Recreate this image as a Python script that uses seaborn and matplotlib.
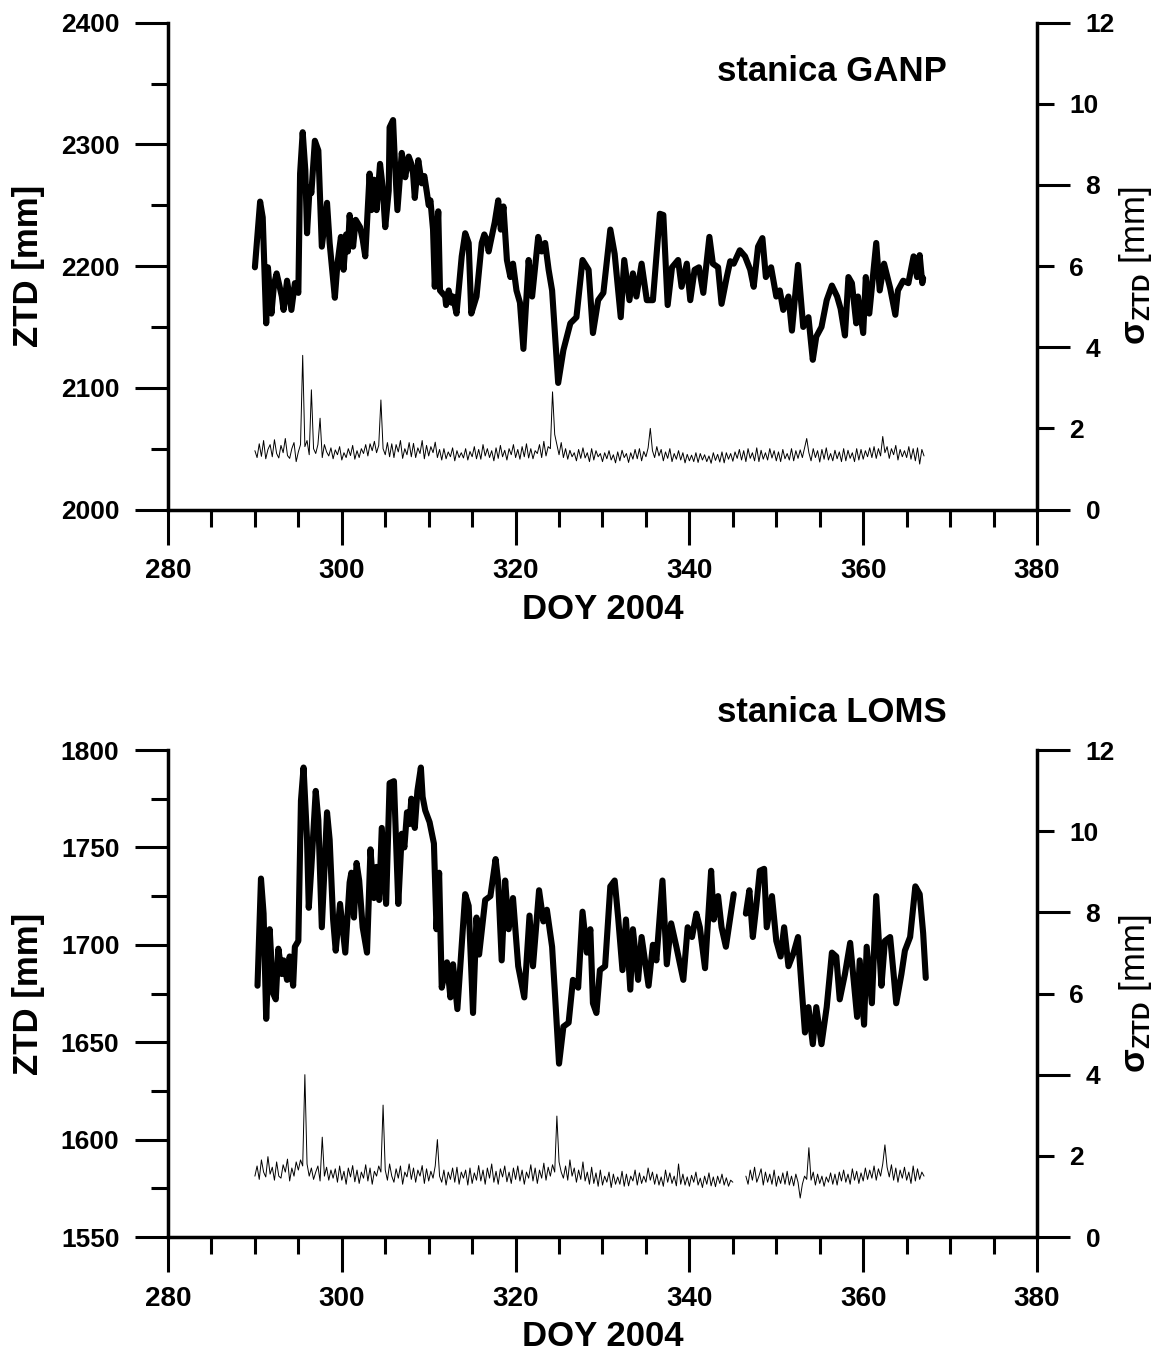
import numpy as np
import pandas as pd
import matplotlib
matplotlib.use("Agg")
import matplotlib.pyplot as plt
from matplotlib.ticker import MultipleLocator, FixedLocator, FormatStrFormatter
import seaborn as sns

# ---------------- data ----------------
# Station GANP: zenith total delay [mm]
ganp_doy = [290.0, 290.6, 290.9, 291.3, 291.5, 291.9, 292.2, 292.5, 293.1, 293.3, 293.7,
            294.2, 294.6, 295.0, 295.2, 295.5, 295.8, 296.0, 296.3, 296.5, 296.9,
            297.3, 297.7, 298.1, 298.3, 298.6, 299.2, 299.5, 299.9, 300.2, 300.5,
            300.7, 300.9, 301.3, 301.6, 302.1, 302.4, 302.7, 303.2, 303.4, 303.7,
            304.0, 304.4, 304.7, 305.0, 305.4, 305.5, 305.9, 306.1, 306.4, 306.9,
            307.3, 307.5, 307.7, 308.0, 308.2, 308.4, 308.8, 309.2, 309.5, 309.8,
            310.0, 310.2, 310.5, 310.7, 311.1, 311.3, 311.9, 312.0, 312.3, 312.6,
            312.8, 313.2, 313.8, 314.2, 314.6, 314.9, 315.5, 316.1, 316.4, 316.7,
            316.9, 317.1, 317.6, 318.0, 318.3, 318.6, 319.0, 319.4, 319.7, 320.1,
            320.5, 320.9, 321.5, 321.9, 322.6, 323.0, 323.4, 323.8, 324.2, 324.9,
            325.5, 326.3, 327.0, 327.7, 328.4, 328.9, 329.5, 330.1, 330.9, 331.4,
            332.1, 332.5, 333.1, 333.5, 333.9, 334.5, 335.1, 335.8, 336.2, 336.6,
            337.0, 337.5, 338.0, 338.7, 339.1, 339.7, 340.1, 340.6, 341.1, 341.6,
            342.3, 342.7, 343.3, 343.7, 344.3, 344.7, 345.1, 345.8, 346.4, 347.0,
            347.4, 347.9, 348.4, 348.8, 349.4, 350.0, 350.4, 350.8, 351.4, 351.8,
            352.5, 353.1, 353.7, 354.2, 354.6, 355.2, 355.8, 356.4, 357.0, 357.4,
            357.9, 358.3, 358.7, 359.2, 359.4, 360.0, 360.3, 360.7, 361.5, 361.9,
            362.4, 363.1, 363.7, 364.0, 364.6, 365.2, 365.8, 366.2, 366.5, 366.8,
            366.9]
ganp_ztd = [2199, 2253, 2240, 2153, 2199, 2161, 2185, 2194, 2175, 2164, 2188,
            2164, 2186, 2178, 2276, 2310, 2279, 2227, 2265, 2260, 2303,
            2295, 2216, 2240, 2252, 2219, 2174, 2202, 2224, 2197, 2226,
            2212, 2242, 2216, 2238, 2232, 2222, 2208, 2276, 2246, 2271,
            2246, 2284, 2265, 2232, 2262, 2314, 2320, 2287, 2246, 2293,
            2273, 2282, 2290, 2284, 2276, 2256, 2287, 2268, 2274, 2260,
            2250, 2254, 2230, 2183, 2245, 2180, 2175, 2168, 2180, 2170,
            2175, 2161, 2208, 2227, 2219, 2161, 2175, 2219, 2226, 2221,
            2212, 2219, 2236, 2254, 2230, 2249, 2205, 2191, 2202, 2180,
            2170, 2132, 2205, 2175, 2224, 2212, 2219, 2197, 2180, 2104,
            2131, 2153, 2158, 2205, 2197, 2145, 2172, 2178, 2230, 2210,
            2158, 2205, 2172, 2194, 2175, 2202, 2172, 2172, 2208, 2243,
            2242, 2168, 2199, 2205, 2183, 2202, 2172, 2197, 2199, 2178,
            2224, 2202, 2199, 2169, 2191, 2204, 2202, 2213, 2208, 2197,
            2183, 2216, 2223, 2191, 2199, 2175, 2180, 2164, 2175, 2147,
            2201, 2150, 2158, 2123, 2142, 2150, 2172, 2184, 2175, 2165,
            2143, 2191, 2186, 2153, 2175, 2145, 2191, 2161, 2219, 2180,
            2202, 2182, 2160, 2180, 2188, 2186, 2208, 2191, 2209, 2186,
            2190]

# Station LOMS: zenith total delay [mm] (NaN = data gap)
loms_doy = [290.3, 290.7, 291.0, 291.3, 291.7, 292.1, 292.4, 292.7, 293.1, 293.3,
            293.7, 294.0, 294.4, 294.6, 295.0, 295.3, 295.6, 296.0, 296.2, 296.5,
            297.0, 297.3, 297.7, 298.3, 298.6, 299.0, 299.3, 299.8, 300.4, 300.9,
            301.1, 301.4, 301.7, 302.0, 302.4, 302.9, 303.3, 303.7, 304.0, 304.3,
            304.6, 305.1, 305.5, 306.0, 306.5, 306.9, 307.2, 307.5, 307.8, 308.0,
            308.4, 308.7, 309.1, 309.3, 309.6, 310.1, 310.6, 310.9, 311.2, 311.5,
            312.1, 312.5, 312.8, 313.3, 314.2, 314.6, 315.1, 315.5, 315.8, 316.5,
            317.1, 317.7, 318.0, 318.4, 318.8, 319.2, 319.7, 320.3, 321.0, 321.6,
            322.0, 322.7, 323.2, 323.6, 324.2, 324.5, 325.0, 325.5, 326.1, 326.6,
            327.2, 327.7, 328.2, 328.6, 328.9, 329.3, 329.7, 330.3, 330.9, 331.4,
            331.8, 332.3, 332.7, 333.2, 333.5, 334.1, 334.5, 335.3, 335.8, 336.2,
            336.9, 337.4, 337.9, 338.5, 339.3, 339.8, 340.3, 340.8, 341.2, 341.8,
            342.5, 342.8, 343.3, 343.7, 344.2, 344.7, 345.1, 345.8, 346.5, 346.9,
            347.3, 347.7, 348.1, 348.6, 348.9, 349.5, 350.0, 350.5, 350.9, 351.4,
            352.0, 352.5, 352.9, 353.3, 353.7, 354.2, 354.6, 355.2, 355.8, 356.4,
            356.9, 357.3, 357.9, 358.5, 358.9, 359.3, 359.6, 360.1, 360.4, 361.0,
            361.5, 362.1, 362.5, 363.1, 363.5, 363.8, 364.4, 364.8, 365.4, 366.0,
            366.5, 366.9, 367.2]
loms_ztd = [1679, 1734, 1716, 1662, 1708, 1675, 1672, 1698, 1685, 1692,
            1682, 1694, 1679, 1699, 1702, 1774, 1791, 1754, 1719, 1740,
            1779, 1764, 1709, 1768, 1754, 1713, 1697, 1721, 1696, 1732,
            1737, 1714, 1742, 1733, 1709, 1696, 1749, 1724, 1740, 1723,
            1760, 1721, 1783, 1784, 1721, 1757, 1750, 1768, 1762, 1775,
            1760, 1779, 1791, 1776, 1769, 1763, 1752, 1708, 1737, 1678,
            1691, 1673, 1690, 1667, 1726, 1720, 1665, 1714, 1695, 1723,
            1725, 1744, 1732, 1692, 1733, 1708, 1724, 1689, 1673, 1715,
            1689, 1728, 1712, 1718, 1699, 1677, 1639, 1658, 1660, 1682,
            1678, 1717, 1696, 1708, 1670, 1665, 1687, 1689, 1730, 1733,
            1714, 1687, 1713, 1677, 1708, 1682, 1704, 1679, 1700, 1692,
            1733, 1690, 1711, 1699, 1682, 1709, 1704, 1716, 1709, 1688,
            1738, 1713, 1725, 1709, 1699, 1714, 1726, np.nan, 1716, 1728,
            1704, 1720, 1738, 1739, 1709, 1725, 1702, 1694, 1709, 1689,
            1696, 1704, 1679, 1655, 1668, 1649, 1668, 1649, 1668, 1696,
            1694, 1672, 1685, 1701, 1682, 1663, 1692, 1659, 1699, 1670,
            1725, 1679, 1702, 1704, 1685, 1670, 1685, 1697, 1704, 1730,
            1726, 1706, 1683]

# Formal errors of ZTD, 6-hourly, starting DOY 290.0, in 0.01 mm
sigma_start = 290.0
sigma_step = 0.25
ganp_sigma = [
    145, 128, 162, 131, 170, 125, 148, 160, 130, 172, 138, 127, 158, 140, 175, 133,
    126, 150, 165, 118, 142, 160, 380, 155, 170, 135, 295, 150, 138, 160, 225, 128,
    160, 142, 132, 152, 125, 147, 135, 155, 122, 140, 128, 150, 133, 158, 124, 145,
    128, 150, 138, 160, 132, 162, 145, 168, 140, 158, 270, 150, 135, 165, 130, 162,
    128, 160, 142, 170, 126, 150, 135, 165, 130, 163, 128, 152, 138, 170, 125, 158,
    132, 155, 140, 166, 128, 148, 122, 150, 125, 142, 130, 152, 120, 145, 128, 140,
    127, 150, 122, 143, 130, 155, 125, 148, 124, 160, 132, 150, 128, 145, 120, 152,
    126, 158, 130, 146, 122, 150, 135, 160, 128, 148, 124, 155, 130, 162, 127, 150,
    125, 145, 138, 160, 128, 168, 132, 155, 150, 290, 185, 160, 135, 165, 128, 150,
    124, 146, 130, 140, 120, 148, 126, 152, 127, 140, 118, 150, 122, 145, 130, 138,
    118, 140, 125, 145, 122, 135, 115, 142, 120, 146, 128, 138, 116, 140, 124, 148,
    125, 150, 120, 143, 130, 152, 200, 145, 128, 155, 132, 148, 120, 142, 126, 150,
    118, 138, 124, 145, 122, 140, 115, 136, 120, 134, 118, 140, 116, 138, 122, 135,
    118, 132, 114, 140, 121, 136, 117, 142, 115, 140, 124, 138, 119, 142, 126, 148,
    122, 145, 118, 150, 126, 140, 120, 152, 118, 146, 124, 140, 122, 150, 127, 145,
    120, 142, 118, 148, 125, 138, 122, 150, 120, 145, 126, 147, 128, 152, 175, 140,
    120, 150, 128, 145, 117, 148, 124, 152, 122, 138, 120, 146, 125, 142, 118, 150,
    120, 146, 126, 140, 118, 150, 122, 148, 124, 145, 130, 152, 128, 155, 126, 150,
    132, 180, 140, 155, 126, 150, 135, 158, 122, 148, 130, 145, 128, 155, 124, 150,
    120, 152, 112, 148, 132]

loms_sigma = [
    150, 175, 142, 190, 160, 148, 198, 155, 172, 140, 185, 150, 145, 178, 160, 192,
    138, 170, 150, 185, 165, 190, 175, 400, 180, 150, 170, 142, 160, 175, 138, 246,
    150, 172, 140, 165, 145, 168, 135, 175, 140, 162, 130, 170, 148, 176, 136, 165,
    132, 160, 145, 178, 138, 170, 130, 162, 150, 175, 160, 325, 165, 140, 180, 150,
    135, 168, 145, 175, 130, 160, 148, 180, 142, 170, 135, 165, 150, 176, 132, 168,
    138, 162, 145, 175, 240, 150, 135, 165, 128, 160, 142, 170, 135, 172, 130, 160,
    145, 165, 128, 170, 132, 158, 140, 176, 138, 165, 130, 170, 145, 180, 135, 162,
    130, 168, 148, 175, 136, 160, 132, 170, 142, 175, 138, 165, 130, 160, 145, 178,
    138, 170, 132, 165, 145, 182, 140, 172, 150, 178, 160, 298, 185, 160, 145, 175,
    140, 190, 150, 170, 135, 165, 142, 185, 138, 160, 130, 172, 132, 158, 125, 165,
    128, 150, 135, 160, 122, 155, 130, 148, 130, 162, 125, 155, 126, 150, 138, 165,
    128, 158, 132, 150, 135, 170, 140, 160, 130, 155, 128, 148, 125, 165, 135, 158,
    132, 150, 126, 180, 130, 155, 128, 148, 125, 152, 135, 160, 128, 145, 122, 150,
    130, 158, 126, 148, 124, 150, 132, 155, 128, 146, 125, 140, 135, np.nan, np.nan, np.nan,
    np.nan, np.nan, 150, 130, 165, 140, 172, 135, 150, 168, 128, 160, 135, 155, 130, 165,
    125, 150, 132, 158, 130, 162, 128, 150, 126, 155, 135, 96, 130, 150, 142, 220,
    140, 160, 128, 155, 132, 150, 125, 148, 135, 158, 130, 155, 128, 160, 138, 165,
    135, 155, 130, 168, 140, 162, 132, 158, 138, 170, 142, 165, 145, 175, 140, 168,
    150, 180, 227, 172, 148, 178, 140, 170, 135, 165, 145, 172, 140, 160, 132, 175,
    138, 168, 142, 160, 150]

x_major = [280, 300, 320, 340, 360, 380]
right_major = [0, 4, 8, 12]
right_minor = [2, 6, 10]

# ---------------- style ----------------
sns.set_style("ticks")
plt.rcParams["font.family"] = ["Liberation Sans", "DejaVu Sans"]
plt.rcParams["font.weight"] = "bold"
for key in ("text.color", "axes.labelcolor", "axes.edgecolor",
            "xtick.color", "ytick.color"):
    plt.rcParams[key] = "black"
plt.rcParams["mathtext.fontset"] = "custom"
plt.rcParams["mathtext.rm"] = "Liberation Sans"
plt.rcParams["mathtext.it"] = "Liberation Sans:italic"
plt.rcParams["mathtext.bf"] = "Liberation Sans:bold"

SPINE_W = 2.5
MAJ_LEN, MIN_LEN = 24, 12


def segments(t, v):
    """Long-format frame; NaN entries split the series into separate runs."""
    t = np.asarray(t, float)
    v = np.asarray(v, float)
    gap = np.isnan(v)
    seg = np.cumsum(gap)
    df = pd.DataFrame({"doy": t, "val": v, "seg": seg})
    return df[~gap]


def panel(fig, rect, doy, ztd, sigma, ylim, ymaj, ymin, title, title_y):
    ax = fig.add_axes(rect)
    ax2 = ax.twinx()

    zdf = segments(doy, ztd)
    sns.lineplot(data=zdf, x="doy", y="val", units="seg", estimator=None,
                 sort=False, color="black", lw=4.4, ax=ax,
                 solid_joinstyle="round", solid_capstyle="round")

    sig = np.asarray(sigma, float) / 100.0
    st = sigma_start + sigma_step * np.arange(len(sig))
    sdf = segments(st, sig)
    sns.lineplot(data=sdf, x="doy", y="val", units="seg", estimator=None,
                 sort=False, color="black", lw=0.7, ax=ax2)

    ax.set_xlim(280, 380)
    ax.set_ylim(*ylim)
    ax2.set_ylim(0, 12)

    for a in (ax, ax2):
        a.spines["top"].set_visible(False)
        for s in a.spines.values():
            s.set_linewidth(SPINE_W)
            s.set_color("black")
    ax.spines["right"].set_visible(False)
    ax2.spines["left"].set_visible(False)
    ax2.spines["bottom"].set_visible(False)

    ax.xaxis.set_major_locator(FixedLocator(x_major))
    ax.xaxis.set_minor_locator(MultipleLocator(5))
    ax.yaxis.set_major_locator(MultipleLocator(ymaj))
    ax.yaxis.set_minor_locator(MultipleLocator(ymin))
    ax.tick_params(axis="x", which="major", direction="out", length=MAJ_LEN + 1,
                   width=2.2, pad=10, labelsize=20)
    ax.tick_params(axis="x", which="minor", direction="out", length=MIN_LEN,
                   width=2.2)
    ax.tick_params(axis="y", which="major", direction="out", length=MAJ_LEN,
                   width=2.2, pad=11, labelsize=19)
    ax.tick_params(axis="y", which="minor", direction="out", length=MIN_LEN,
                   width=2.2)

    ax2.yaxis.set_major_locator(FixedLocator(right_major))
    ax2.yaxis.set_minor_locator(FixedLocator(right_minor))
    ax2.yaxis.set_major_formatter(FormatStrFormatter("%d"))
    ax2.yaxis.set_minor_formatter(FormatStrFormatter("%d"))
    ax2.tick_params(axis="y", which="both", direction="out", width=2.2,
                    pad=11, labelsize=19)
    ax2.tick_params(axis="y", which="major", length=MAJ_LEN)
    ax2.tick_params(axis="y", which="minor", length=MIN_LEN)

    ax.set_xlabel("DOY 2004", fontsize=25, fontweight="bold")
    ax.xaxis.set_label_coords(0.5, -0.205)
    ax.xaxis.label.set_verticalalignment("center")
    ax.set_ylabel("ZTD [mm]", fontsize=25, fontweight="bold")
    ax.yaxis.set_label_coords(-0.161, 0.5)
    ax.yaxis.label.set_verticalalignment("center")
    ax2.set_ylabel(r"$\mathrm{σ}_{\mathrm{ZTD}}$ [mm]", fontsize=25,
                   fontweight="normal")
    ax2.yaxis.set_label_coords(1.113, 0.5)
    ax2.yaxis.label.set_verticalalignment("center")

    ax.text(0.764, title_y, title, transform=ax.transAxes, ha="center",
            va="center", fontsize=25, fontweight="bold")
    return ax, ax2


fig = plt.figure(figsize=(11.54, 13.51), dpi=100)
fig.patch.set_facecolor("white")

panel(fig, [0.14558, 0.62287, 0.75303, 0.36033], ganp_doy, ganp_ztd, ganp_sigma,
      (2000, 2400), 100, 50, "stanica GANP", 0.899)
panel(fig, [0.14558, 0.08438, 0.75303, 0.36047], loms_doy, loms_ztd, loms_sigma,
      (1550, 1800), 50, 25, "stanica LOMS", 1.078)

fig.savefig("out.png", dpi=100, facecolor="white")
